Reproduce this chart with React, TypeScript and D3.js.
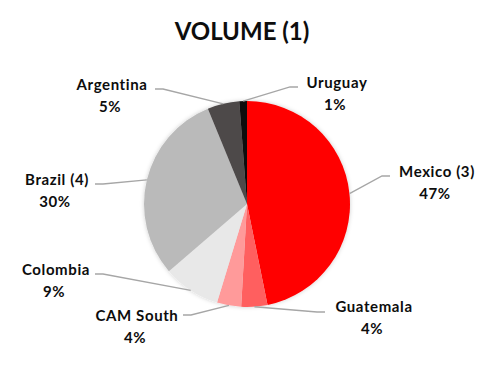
import React, { useEffect, useRef } from 'react';
import * as d3 from 'd3';

// chart data, clockwise from 12 o'clock
const categories = ['Mexico (3)', 'Guatemala', 'CAM South', 'Colombia', 'Brazil (4)', 'Argentina', 'Uruguay'];
const shares = [46.8, 4.1, 3.8, 9.0, 30.1, 5.0, 1.2];
const colors = ['#ff0000', '#ff5f5f', '#ff9a9a', '#e8e8e8', '#bababa', '#4d4949', '#0a0a0a'];

// where each data label sits (text centre x, first baseline y) and where its leader line meets it
const labelLayout = [
  { x: 437, y: 177, tipX: 390, tipY: 176, side: 1 },
  { x: 374, y: 312, tipX: 325, tipY: 312, side: 1 },
  { x: 137, y: 321, tipX: 183, tipY: 315, side: -1 },
  { x: 56, y: 275, tipX: 95, tipY: 274, side: -1 },
  { x: 57, y: 185, tipX: 95, tipY: 184, side: -1 },
  { x: 112, y: 90, tipX: 155, tipY: 89, side: -1 },
  { x: 337, y: 88, tipX: 298, tipY: 87, side: 1 },
];

const width = 482;
const height = 365;

export default function App() {
  const svgRef = useRef<SVGSVGElement>(null);

  useEffect(() => {
    if (!svgRef.current) return;
    const svg = d3.select(svgRef.current);
    svg.selectAll('*').remove();

    const cx = 247;
    const cy = 204;
    const r = 103;
    const font = 'Lato, "Open Sans", sans-serif';

    const defs = svg.append('defs');
    defs.append('filter')
      .attr('id', 'shadow')
      .attr('x', '-20%').attr('y', '-20%').attr('width', '140%').attr('height', '140%')
      .append('feDropShadow')
      .attr('dx', 0).attr('dy', 0)
      .attr('stdDeviation', 2)
      .attr('flood-color', '#000')
      .attr('flood-opacity', 0.2);

    // Title
    svg.append('text')
      .attr('x', 242)
      .attr('y', 40)
      .attr('text-anchor', 'middle')
      .attr('fill', '#0d0d0d')
      .attr('style', `font-family: ${font}; font-weight: bold; font-size: 24px;`)
      .text('VOLUME (1)');

    const data = categories.map((c, i) => ({ name: c, value: shares[i], color: colors[i], layout: labelLayout[i] }));

    const pie = d3.pie<any>().sort(null).value(d => d.value);
    const arcs = pie(data);
    const arc = d3.arc<any>().innerRadius(0).outerRadius(r);

    const g = svg.append('g').attr('transform', `translate(${cx},${cy})`);
    g.append('g')
      .attr('filter', 'url(#shadow)')
      .selectAll('path')
      .data(arcs)
      .join('path')
      .attr('d', arc)
      .attr('fill', d => d.data.color);

    // Leader lines: from mid-angle on the rim to the label
    const lineGen = d3.line();
    svg.append('g')
      .selectAll('path')
      .data(arcs)
      .join('path')
      .attr('fill', 'none')
      .attr('stroke', '#a6a6a6')
      .attr('stroke-width', 1.3)
      .attr('d', d => {
        const mid = (d.startAngle + d.endAngle) / 2;
        const ax = cx + r * Math.sin(mid);
        const ay = cy - r * Math.cos(mid);
        const L = d.data.layout;
        const elbowX = L.tipX - L.side * 8;
        return lineGen([[ax, ay], [elbowX, L.tipY], [L.tipX, L.tipY]]);
      });

    // Labels
    const labels = svg.append('g')
      .selectAll('text')
      .data(arcs)
      .join('text')
      .attr('text-anchor', 'middle')
      .attr('fill', '#0d0d0d')
      .attr('style', `font-family: ${font}; font-weight: bold; font-size: 15px; letter-spacing: 0.6px;`);
    labels.append('tspan')
      .attr('x', d => d.data.layout.x)
      .attr('y', d => d.data.layout.y)
      .text(d => d.data.name);
    labels.append('tspan')
      .attr('x', d => d.data.layout.x - 2)
      .attr('y', d => d.data.layout.y + 22)
      .text(d => `${Math.round(d.data.value)}%`);
  }, []);

  return (
    <>
      <style>{`body { margin: 0; background: #fff; }`}</style>
      <svg ref={svgRef} width={width} height={height} style={{ display: 'block' }} />
    </>
  );
}
